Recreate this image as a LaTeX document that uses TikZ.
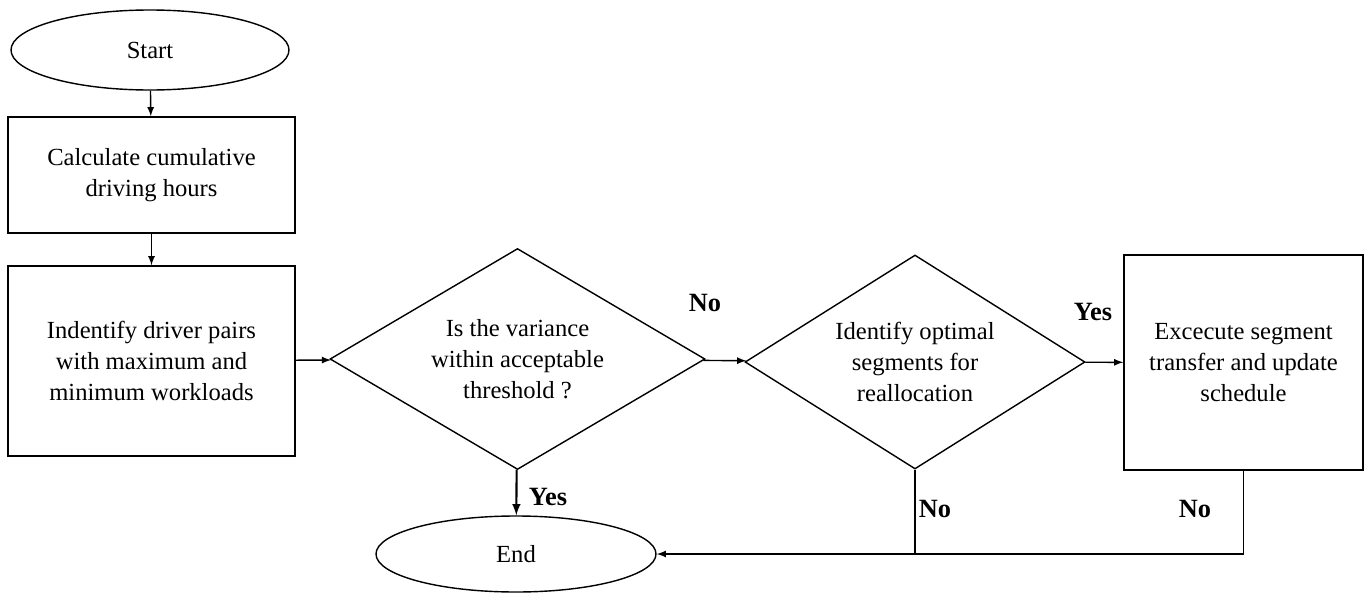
\documentclass[tikz,border=0pt]{standalone}
\usepackage{fontspec}
\setmainfont{Liberation Serif}
\usepackage{tikz}
\usetikzlibrary{arrows}
\usetikzlibrary{calc,shapes}

\begin{document}
\begin{tikzpicture}[
  every node/.style={font=\rmfamily\fontsize{14}{17.5}\selectfont},
  term/.style={draw,ellipse,thick,minimum width=5.56cm,minimum height=1.6cm,inner sep=0pt},
  boite/.style={draw,thick,align=center,inner sep=0pt},
  choix/.style={draw,diamond,thick,align=center,inner sep=0pt},
  reponse/.style={font=\rmfamily\fontsize{15}{18}\selectfont\bfseries}
]
\useasboundingbox (0,0) rectangle (27.36,11.88);
% Noeuds
\node[term] (debut) at (3.0,10.88) {Start};
\node[boite,minimum width=5.74cm,minimum height=2.32cm] (calcul) at (3.03,8.38) {Calculate cumulative\\driving hours};
\node[boite,minimum width=5.74cm,minimum height=3.8cm] (paires) at (3.03,4.66) {Indentify driver pairs\\with maximum and\\minimum workloads};
\node[choix,aspect=1.7,minimum width=7.5cm,minimum height=4.42cm] (variance) at (10.35,4.70) {Is the variance\\within acceptable\\threshold ?};
\node[choix,aspect=1.59,minimum width=6.8cm,minimum height=4.28cm] (segments) at (18.3,4.64) {Identify optimal\\segments for\\reallocation};
\node[boite,minimum width=4.78cm,minimum height=4.3cm] (transfert) at (24.87,4.63) {Excecute segment\\transfer and update\\schedule};
\node[term,minimum width=5.6cm,minimum height=1.52cm] (fin) at (10.32,0.8) {End};
% Flèches
\draw [-latex,thick] (debut) -- (calcul);
\draw [-latex,thick] (calcul) -- (paires);
\draw [-latex,thick] (paires) -- (variance);
\draw [-latex,thick] (variance) -- (segments);
\draw [-latex,thick] (segments) -- (transfert);
\draw [-latex,very thick] (variance) -- (fin);
\draw [thick] (segments.south) -- (segments.south |- fin.east);
\draw [-latex,thick] (transfert.south) |- (fin.east);
% Réponses
\node[reponse] (non1) at (14.1,5.82) {No};
\node[reponse] (oui1) at (21.86,5.64) {Yes};
\node[reponse] (oui2) at (10.96,1.94) {Yes};
\node[reponse] (non2) at (18.7,1.7) {No};
\node[reponse] (non3) at (23.9,1.7) {No};
\end{tikzpicture}
\end{document}
